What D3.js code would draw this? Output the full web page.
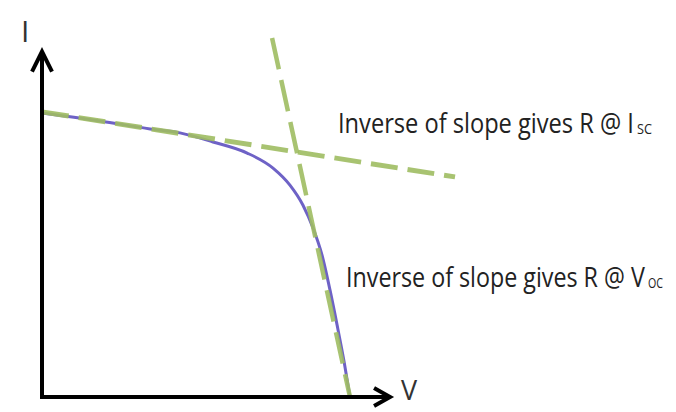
<!DOCTYPE html>
<html>
<head>
<meta charset="utf-8">
<script src="https://cdn.jsdelivr.net/npm/d3@7"></script>
<style>
  html, body { margin: 0; padding: 0; background: #fff; }
  svg { display: block; }
</style>
</head>
<body>
<svg id="chart" width="676" height="412"></svg>
<script>
// normalised I-V curve (V / Voc, I / Isc)
const voltage = [0, 0.188, 0.351, 0.448, 0.555, 0.666, 0.75, 0.805, 0.847, 0.88, 0.909, 0.935, 0.958, 0.981, 1.0]
const current = [1.0, 0.972, 0.944, 0.93, 0.898, 0.859, 0.806, 0.746, 0.676, 0.595, 0.5, 0.377, 0.254, 0.123, 0]

// tangent lines, [V, I] end points
const tangentIsc = [[0, 1.004], [1.341, 0.775]]
const tangentVoc = [[0.747, 1.264], [1.0, 0]]

const axisMax = { v: 1.13, i: 1.22 }
const labels = {
    isc: ['Inverse of slope gives R @ I', 'SC'],
    voc: ['Inverse of slope gives R @ V', 'OC'],
    xAxis: 'V',
    yAxis: 'I'
}

const svg = d3.select('#chart')
const font = "'Liberation Sans Narrow', 'Open Sans', sans-serif"

let x = d3.scaleLinear().domain([0, 1]).range([42, 350])
let y = d3.scaleLinear().domain([0, 1]).range([397, 113])

let pts = voltage.map((v, i) => [v, current[i]])

let line = d3.line()
    .x(d => x(d[0]))
    .y(d => y(d[1]))

// curve
svg.append('path')
    .datum(pts)
    .attr('fill', 'none')
    .attr('stroke', '#6e62c6')
    .attr('stroke-width', 3)
    .attr('d', line.curve(d3.curveMonotoneX))

// dashed tangents
svg.append('path')
    .datum(tangentIsc)
    .attr('fill', 'none')
    .attr('stroke', '#9fbd62')
    .attr('stroke-width', 5)
    .attr('stroke-dasharray', '27,10')
    .attr('opacity', 0.9)
    .attr('d', d3.line().x(d => x(d[0])).y(d => y(d[1])))

svg.append('path')
    .datum(tangentVoc)
    .attr('fill', 'none')
    .attr('stroke', '#9fbd62')
    .attr('stroke-width', 4.5)
    .attr('stroke-dasharray', '32,11')
    .attr('opacity', 0.9)
    .attr('d', d3.line().x(d => x(d[0])).y(d => y(d[1])))

// axes
let axes = svg.append('g')
    .attr('stroke', '#000')
    .attr('stroke-width', 4)
    .attr('fill', 'none')

axes.append('path')
    .attr('d', `M${x(0)},${y(axisMax.i) + 2} L${x(0)},${y(0)} L${x(axisMax.v) - 2},${y(0)}`)
    .attr('stroke-linejoin', 'miter')

// arrow heads
axes.append('path')
    .attr('stroke-linejoin', 'miter')
    .attr('d', `M${x(0) - 10},${y(axisMax.i) + 21} L${x(0)},${y(axisMax.i) + 1} L${x(0) + 10},${y(axisMax.i) + 21}`)

axes.append('path')
    .attr('stroke-linejoin', 'miter')
    .attr('d', `M${x(axisMax.v) - 16},${y(0) - 9} L${x(axisMax.v)},${y(0)} L${x(axisMax.v) - 16},${y(0) + 9}`)

// axis labels
svg.append('text')
    .attr('x', 21)
    .attr('y', 42)
    .style('font-family', font)
    .style('font-size', '30px')
    .attr('fill', '#333')
    .text(labels.yAxis)

svg.append('text')
    .attr('x', 401)
    .attr('y', 400)
    .style('font-family', font)
    .style('font-size', '27px')
    .attr('fill', '#333')
    .text(labels.xAxis)

// squeeze a text horizontally so it spans w pixels
function squeezed(str, px, py, size, w) {
    let t = svg.append('text')
        .style('font-family', font)
        .style('font-size', size + 'px')
        .attr('fill', '#222')
        .text(str)
    let natural = t.node().getComputedTextLength()
    t.attr('transform', `translate(${px},${py}) scale(${w / natural},1)`)
    return t
}

// annotations
function annotate(lbl, px, py, w, subW) {
    squeezed(lbl[0], px, py, 27, w)
    squeezed(lbl[1], px + w + 3, py + 1, 14, subW)
}

annotate(labels.isc, 338, 133, 296, 15)
annotate(labels.voc, 346, 287, 299, 15)
</script>
</body>
</html>
